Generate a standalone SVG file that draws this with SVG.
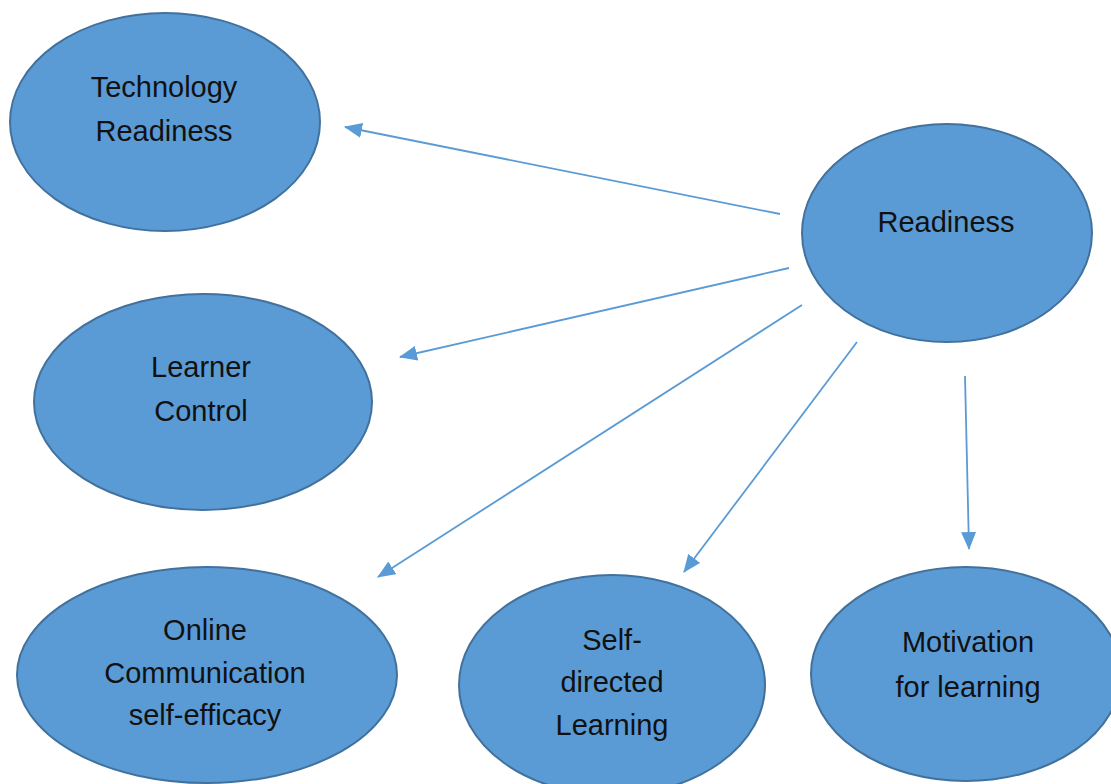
<svg xmlns="http://www.w3.org/2000/svg" width="1111" height="784" viewBox="0 0 1111 784">
  <style>
    .node ellipse { fill: #5b9bd5; stroke: #41719c; stroke-width: 2; }
    .node text { font-family: "Liberation Sans", Arial, sans-serif; font-size: 29px; fill: #111; text-anchor: middle; }
    .edge { stroke: #5b9bd5; stroke-width: 1.8; fill: none; marker-end: url(#arrow); }
  </style>
  <defs>
    <marker id="arrow" markerWidth="18" markerHeight="15" refX="17" refY="7.5" orient="auto" markerUnits="userSpaceOnUse" viewBox="0 0 18 15">
      <path d="M0,0 L18,7.5 L0,15 Z" fill="#5b9bd5"/>
    </marker>
  </defs>
  <rect width="1111" height="784" fill="#ffffff"/>

  <g id="connectors">
    <line class="edge" x1="780" y1="214" x2="345" y2="127"/>
    <line class="edge" x1="789" y1="268" x2="400" y2="357"/>
    <line class="edge" x1="802" y1="305" x2="378" y2="577"/>
    <line class="edge" x1="857" y1="342" x2="684" y2="572"/>
    <line class="edge" x1="965" y1="376" x2="969" y2="549"/>
  </g>

  <g id="technology-readiness" class="node">
    <ellipse cx="165" cy="122" rx="155" ry="109"/>
    <text x="164" y="97">Technology</text>
    <text x="164" y="141">Readiness</text>
  </g>

  <g id="readiness" class="node">
    <ellipse cx="947" cy="233" rx="145" ry="109"/>
    <text x="946" y="232">Readiness</text>
  </g>

  <g id="learner-control" class="node">
    <ellipse cx="203" cy="402" rx="169" ry="108"/>
    <text x="201" y="377">Learner</text>
    <text x="201" y="421">Control</text>
  </g>

  <g id="online-communication" class="node">
    <ellipse cx="207" cy="675" rx="190" ry="108"/>
    <text x="205" y="640">Online</text>
    <text x="205" y="683">Communication</text>
    <text x="205" y="725">self-efficacy</text>
  </g>

  <g id="self-directed-learning" class="node">
    <ellipse cx="612" cy="685" rx="153" ry="110"/>
    <text x="612" y="650">Self-</text>
    <text x="612" y="692">directed</text>
    <text x="612" y="735">Learning</text>
  </g>

  <g id="motivation" class="node">
    <ellipse cx="966" cy="674" rx="155" ry="107"/>
    <text x="968" y="652">Motivation</text>
    <text x="968" y="697">for learning</text>
  </g>
</svg>
